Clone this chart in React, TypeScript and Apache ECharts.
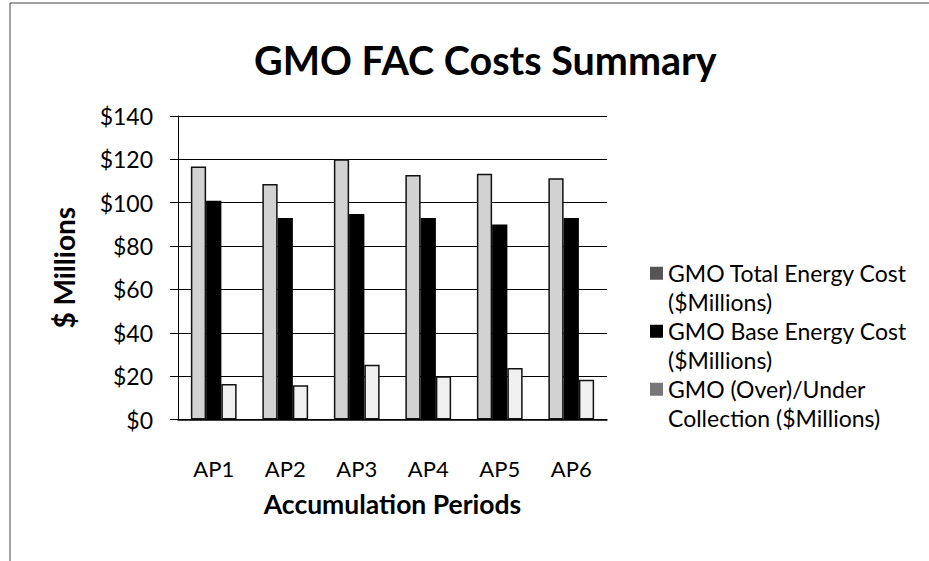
import React, { useEffect, useRef } from "react";
import * as echarts from "echarts";

const categories = ["AP1", "AP2", "AP3", "AP4", "AP5", "AP6"];
const totalEnergyCost = [116.7, 108.6, 120.0, 112.8, 113.4, 111.3];
const baseEnergyCost = [100.9, 93.0, 94.8, 93.0, 89.9, 93.0];
const overUnderCollection = [16.4, 15.8, 25.2, 19.9, 23.7, 18.3];
const seriesNames = [
  "GMO Total Energy Cost\n($Millions)",
  "GMO Base Energy Cost\n($Millions)",
  "GMO (Over)/Under\nCollection ($Millions)",
];

const FONT = "Lato";
const legendIcon =
  "path://M0,0L0.01,0ZM0,3.25L13,3.25L13,16.25L0,16.25ZM0,48L0.01,48Z";

export default function App() {
  const ref = useRef<HTMLDivElement>(null);
  useEffect(() => {
    if (!ref.current) return;
    const chart = echarts.init(ref.current, undefined, { renderer: "svg" });
    chart.setOption({
      animation: false,
      backgroundColor: "#ffffff",
      textStyle: { fontFamily: FONT, color: "#000" },
      title: {
        text: "GMO FAC Costs Summary",
        left: 249,
        top: 34,
        textStyle: { fontFamily: FONT, fontSize: 39.5, fontWeight: "bold", color: "#000" },
      },
      graphic: [
        {
          type: "rect",
          shape: { x: 10, y: 3, width: 1000, height: 1000 },
          style: { fill: "none", stroke: "#444", lineWidth: 1 },
          silent: true,
        },
      ],
      legend: {
        orient: "vertical",
        left: 650,
        top: 259,
        padding: 0,
        itemGap: 1,
        itemWidth: 13,
        itemHeight: 48,
        icon: legendIcon,
        textStyle: { fontFamily: FONT, fontSize: 23, lineHeight: 28.5, color: "#000" },
        data: [
          { name: seriesNames[0], itemStyle: { color: "#555", borderWidth: 0 } },
          { name: seriesNames[1], itemStyle: { color: "#000", borderWidth: 0 } },
          { name: seriesNames[2], itemStyle: { color: "#777", borderWidth: 0 } },
        ],
      },
      grid: { left: 178, right: 322, top: 116, bottom: 141.5 },
      xAxis: {
        type: "category",
        data: categories,
        axisLine: { lineStyle: { color: "#000", width: 1.5 } },
        axisTick: { show: false },
        axisLabel: { fontFamily: FONT, fontSize: 22, color: "#000", margin: 38 },
        name: "Accumulation Periods",
        nameLocation: "middle",
        nameGap: 71,
        nameTextStyle: { fontFamily: FONT, fontSize: 26.5, fontWeight: "bold", color: "#000" },
      },
      yAxis: {
        type: "value",
        min: 0,
        max: 140,
        interval: 20,
        axisLine: { show: true, lineStyle: { color: "#000", width: 1 } },
        axisTick: { show: true, length: 8, lineStyle: { color: "#000" } },
        axisLabel: {
          fontFamily: FONT,
          fontSize: 23,
          color: "#000",
          margin: 25,
          formatter: (v: number) => "$" + v,
        },
        splitLine: { lineStyle: { color: "#000", width: 1 } },
        name: "$ Millions",
        nameLocation: "middle",
        nameGap: 100,
        nameTextStyle: { fontFamily: FONT, fontSize: 28, fontWeight: "bold", color: "#000" },
      },
      series: [
        {
          name: seriesNames[0],
          type: "bar",
          data: totalEnergyCost,
          barGap: "0%",
          barCategoryGap: "36%",
          itemStyle: { color: "#d2d2d2", borderColor: "#111", borderWidth: 1.5 },
        },
        {
          name: seriesNames[1],
          type: "bar",
          data: baseEnergyCost,
          itemStyle: { color: "#000" },
        },
        {
          name: seriesNames[2],
          type: "bar",
          data: overUnderCollection,
          itemStyle: { color: "#f0f0f0", borderColor: "#111", borderWidth: 1.5 },
        },
      ],
    });
    return () => chart.dispose();
  }, []);
  return (
    <div
      ref={ref}
      style={{ position: "absolute", left: 0, top: 0, width: 929, height: 561 }}
    />
  );
}
